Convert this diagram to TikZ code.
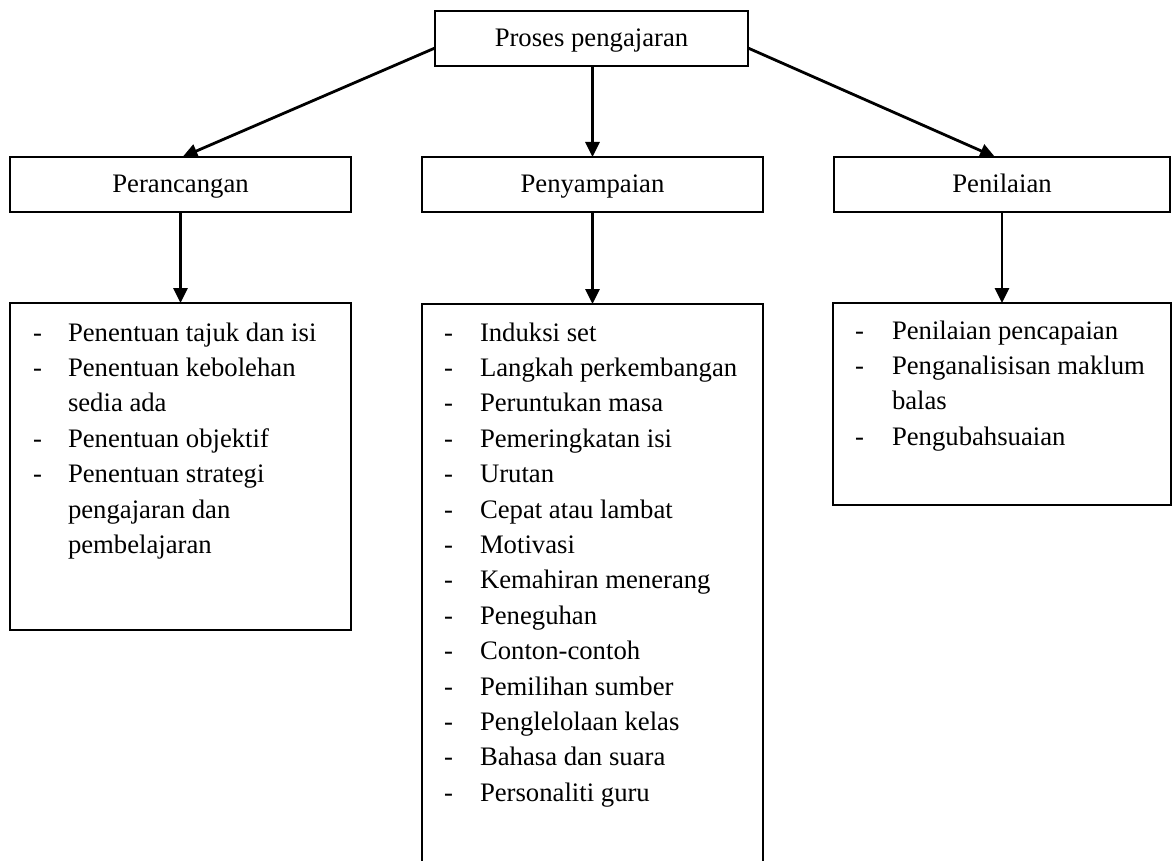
\documentclass[tikz,border=0pt]{standalone}
\usepackage{fontspec}
\setmainfont{Liberation Serif}
\usetikzlibrary{arrows.meta}
\begin{document}
\begin{tikzpicture}[x=1pt,y=-1pt,
  every node/.style={font=\fontsize{26.7}{35.4}\selectfont, outer sep=0pt},
  hbox/.style={draw, line width=2pt, minimum height=55pt, text height=20pt, text depth=4pt, inner sep=0pt},
  lbox/.style={line width=2pt, anchor=north west, inner sep=0pt},
  itm/.style={anchor=base west, inner sep=0pt},
  conn/.style={line width=2.8pt, -{Triangle[length=15pt,width=14pt]}}]
\useasboundingbox (0,0) rectangle (1172,861);
% header boxes
\node[hbox, minimum width=313pt] (top) at (591.5,39) {Proses pengajaran};
\node[hbox, minimum width=341pt] (pc) at (180.5,184.5) {Perancangan};
\node[hbox, minimum width=341pt] (ps) at (592.5,184.5) {Penyampaian};
\node[hbox, minimum width=336pt] (pn) at (1002,184.5) {Penilaian};
% list boxes
\node[lbox, draw, minimum width=341pt, minimum height=327pt] (lb) at (10,303) {};
\node[lbox, minimum width=341pt, minimum height=560pt] (mb) at (422,304) {};
\draw[line width=2pt] (mb.south west) |- (mb.north east) -- (mb.south east);
\node[lbox, draw, minimum width=338pt, minimum height=202pt] (rb) at (833,303) {};
% connectors
\draw[conn] ([yshift=-9pt]top.west) -- ([xshift=2pt]pc.north);
\draw[conn] (ps.north |- top.south) -- (ps.north);
\draw[conn] ([yshift=-9pt]top.east) -- ([xshift=-7pt]pn.north);
\draw[conn] (pc.south) -- (lb.north);
\draw[conn] (ps.south) -- (mb.north);
\draw[conn] (pn.south) -- (rb.north);
% left list
\foreach \t [count=\i] in {Penentuan tajuk dan isi, Penentuan kebolehan, sedia ada, Penentuan objektif, Penentuan strategi, pengajaran dan, pembelajaran}
  {\node[itm] (l\i) at (68,{341+(\i-1)*35.4}) {\t};}
\foreach \i in {1,2,4,5}
  {\node[itm] (ld\i) at (33,{341+(\i-1)*35.4}) {-};}
% middle list
\foreach \t [count=\i] in {Induksi set, Langkah perkembangan, Peruntukan masa, Pemeringkatan isi, Urutan, Cepat atau lambat, Motivasi, Kemahiran menerang, Peneguhan, Conton-contoh, Pemilihan sumber, Penglelolaan kelas, Bahasa dan suara, Personaliti guru}
  {\node[itm] (m\i) at (480,{341+(\i-1)*35.4}) {\t};
   \node[itm] (md\i) at (444,{341+(\i-1)*35.4}) {-};}
% right list
\foreach \t [count=\i] in {Penilaian pencapaian, Penganalisisan maklum, balas, Pengubahsuaian}
  {\node[itm] (r\i) at (892,{339+(\i-1)*35.4}) {\t};}
\foreach \i in {1,2,4}
  {\node[itm] (rd\i) at (855,{339+(\i-1)*35.4}) {-};}
\end{tikzpicture}
\end{document}
